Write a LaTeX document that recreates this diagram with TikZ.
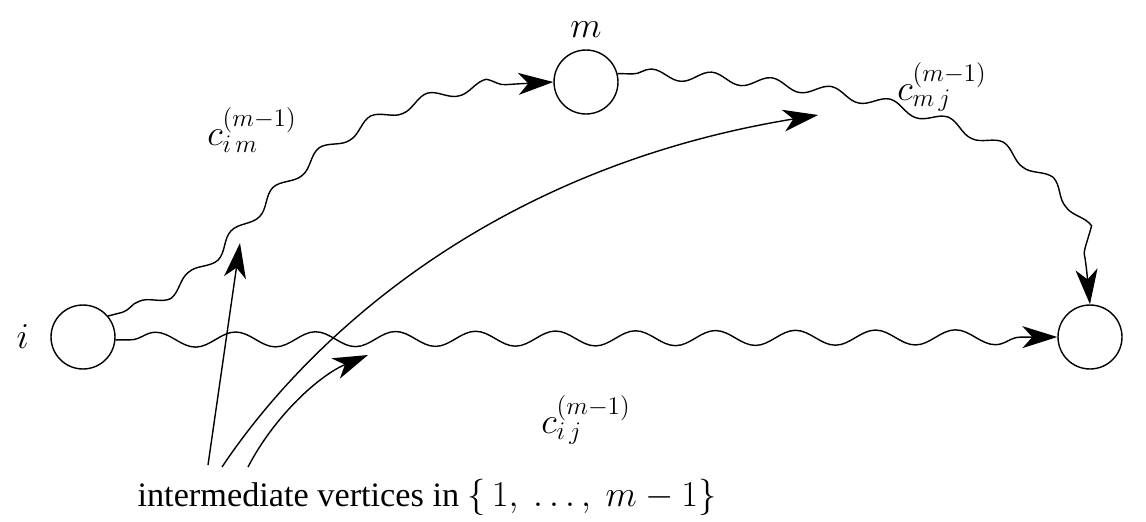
\documentclass[tikz,border=0pt]{standalone}
\usepackage{fontspec}
\setmainfont{Liberation Serif}
\usepackage{tikz}
\usetikzlibrary{arrows.meta,positioning,decorations.pathmorphing}

\begin{document}
\begin{tikzpicture}[x=0.02cm, y=-0.02cm, node distance=0.3cm, line width=0.8pt,
    font=\fontsize{21}{25}\selectfont]
    \tikzstyle{vertex}=[draw, circle, minimum size=1.28cm, inner sep=0pt]
    \tikzstyle{wavy}=[decorate, decoration={snake, amplitude=0.11cm, segment length=1.2cm, pre length=0.3cm, post length=0.7cm}]
    \tikzstyle{flatwavy}=[decorate, decoration={snake, amplitude=0.15cm, segment length=1.6cm, pre length=0.3cm, post length=0.7cm}]
    \tikzstyle{tip}=[-{Stealth[length=0.7cm, width=0.44cm, inset=0.2cm]}]
    \useasboundingbox (0,0) rectangle (1146,521);
    % Vertices
    \node[vertex] (i) at (83,337) {};
    \node[vertex] (m) at (586,82) {};
    \node[vertex] (j) at (1090,337) {};
    \node[left=0.3cm of i] (li) {$i$};
    \node[above=0.1cm of m] (lm) {$m$};
    % Shortest paths
    \draw[wavy, tip] (i.40) .. controls (240,290) and (250,90) .. (m.west);
    \draw[wavy, tip] (m.15) .. controls (900,80) and (1090,150) .. (j.north);
    \draw[flatwavy, tip] (i.-5) -- (j.west);
    \node (cim) at (252,130) {$c^{(m-1)}_{i\,m}$};
    \node (cmj) at (942,87) {$c^{(m-1)}_{m\,j}$};
    \node (cij) at (586,420) {$c^{(m-1)}_{i\,j}$};
    % Intermediate vertices
    \node[font=\fontsize{19.5}{23}\selectfont] (caption) at (427,497) {intermediate vertices in $\{\,1,\ \ldots,\ m-1\}$};
    \coordinate (a1) at (208,465);
    \coordinate (a2) at (222,467);
    \coordinate (a3) at (248,467);
    \coordinate (b1) at (240,243);
    \coordinate (b2) at (818,115);
    \coordinate (b3) at (368,355);
    \draw[tip] (a1) -- (b1);
    \draw[tip] (a2) .. controls (300,350) and (480,170) .. (b2);
    \draw[tip] (a3) .. controls (275,415) and (320,375) .. (b3);
\end{tikzpicture}
\end{document}
